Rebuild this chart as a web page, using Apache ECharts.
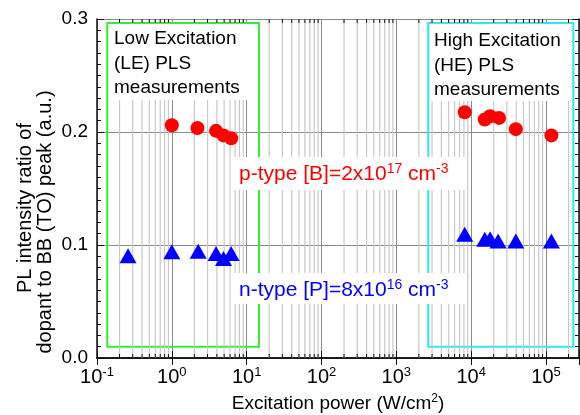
<!DOCTYPE html>
<html>
<head>
<meta charset="utf-8">
<script src="https://cdn.jsdelivr.net/npm/echarts@6/dist/echarts.min.js"></script>
<style>
  html, body { margin: 0; padding: 0; background: #fff; }
  #chart { width: 580px; height: 415px; }
</style>
</head>
<body>
<div id="chart"></div>
<script>
// p-type (boron) – red circles
const pTypeX = [1.0, 2.2, 3.9, 4.9, 6.2, 8200, 15200, 17900, 23600, 39500, 118000];
const pTypeY = [0.206, 0.2035, 0.201, 0.197, 0.1945, 0.2175, 0.211, 0.214, 0.2125, 0.2025, 0.197];
// n-type (phosphorus) – blue triangles
const nTypeX = [0.26, 1.0, 2.25, 3.9, 4.9, 6.2, 8200, 15200, 17900, 22900, 39500, 118000];
const nTypeY = [0.0905, 0.094, 0.0945, 0.0925, 0.088, 0.0925, 0.1095, 0.105, 0.1055, 0.1035, 0.1035, 0.1035];
const yTickLabels = ['0.0', '0.1', '0.2', '0.3'];
// LE / HE regions [x0, y0] -> [x1, y1]
const lowBox = [[0.137, 0.01], [14.6, 0.2965]];
const highBox = [[2670, 0.01], [2.32e5, 0.2965]];

const X_MIN = 0.1;
const X_MAX = 2.76e5;
const FONT = '"Liberation Sans", Arial, sans-serif';

// minor log ticks 2..9 x 10^k
const minorX = [];
for (let k = -1; k <= 5; k++) {
  for (let m = 2; m <= 9; m++) {
    const v = m * Math.pow(10, k);
    if (v < X_MAX) minorX.push([v, 0]);
  }
}

function toPairs(xs, ys) {
  return xs.map((x, i) => [x, ys[i]]);
}

function expLabel(value) {
  const e = Math.log10(value);
  if (Math.abs(e - Math.round(e)) > 1e-6) return '';
  return `{b|10}{e|${Math.round(e)}}`;
}

const chart = echarts.init(document.getElementById('chart'));

const option = {
  animation: false,
  textStyle: { fontFamily: FONT },
  grid: {
    left: 97, right: 1, top: 19, bottom: 57,
    containLabel: false,
    outerBoundsMode: 'none',
  },
  xAxis: [{
    type: 'log',
    logBase: 10,
    min: X_MIN,
    max: X_MAX,
    position: 'bottom',
    name: '{n|Excitation power (W/cm}{s|2}{n|)}',
    nameLocation: 'middle',
    nameGap: 35,
    nameTextStyle: {
      rich: {
        n: { fontSize: 19, fontFamily: FONT, color: '#000' },
        s: { fontSize: 12, fontFamily: FONT, color: '#000', padding: [0, 0, 9, 0] },
      },
    },
    axisLine: { lineStyle: { color: '#111', width: 1.5 } },
    axisTick: { inside: true, length: 7, lineStyle: { color: '#111' } },
    axisLabel: {
      margin: 8,
      formatter: expLabel,
      rich: {
        b: { fontSize: 20, fontFamily: FONT, color: '#000' },
        e: { fontSize: 13, fontFamily: FONT, color: '#000', padding: [0, 0, 10, 0] },
      },
    },
    splitLine: { show: true, lineStyle: { color: '#8a8a8a', width: 1 } },
  }, {
    type: 'log',
    logBase: 10,
    min: X_MIN,
    max: X_MAX,
    position: 'top',
    axisLine: { lineStyle: { color: '#111', width: 1.5 } },
    axisTick: { inside: true, length: 7, lineStyle: { color: '#111' } },
    axisLabel: { show: false },
    splitLine: { show: false },
  }],
  yAxis: [{
    type: 'value',
    min: 0,
    max: 0.3,
    interval: 0.1,
    axisLine: { show: true, lineStyle: { color: '#111', width: 1.5 } },
    axisTick: { show: true, inside: true, length: 7, lineStyle: { color: '#111' } },
    minorTick: { show: true, splitNumber: 10, length: 4, lineStyle: { color: '#111' } },
    axisLabel: {
      margin: 9,
      fontSize: 19,
      color: '#000',
      formatter: (v, i) => yTickLabels[i],
    },
    splitLine: { show: true, lineStyle: { color: '#8a8a8a', width: 1 } },
  }, {
    type: 'value',
    min: 0,
    max: 0.3,
    interval: 0.1,
    position: 'right',
    axisLine: { show: true, lineStyle: { color: '#111', width: 1.5 } },
    axisTick: { show: true, inside: true, length: 7, lineStyle: { color: '#111' } },
    minorTick: { show: true, splitNumber: 10, length: 4, lineStyle: { color: '#111' } },
    axisLabel: { show: false },
    splitLine: { show: false },
  }],
  graphic: [
    // y axis title, two lines
    {
      type: 'text', x: 25, y: 208, rotation: Math.PI / 2, z: 10,
      style: {
        text: 'PL intensity ratio of', fontSize: 20, fontFamily: FONT, fill: '#000',
        align: 'center', verticalAlign: 'middle', textAlign: 'center', textVerticalAlign: 'middle',
      },
    },
    {
      type: 'text', x: 45, y: 222, rotation: Math.PI / 2, z: 10,
      style: {
        text: 'dopant to BB (TO) peak (a.u.)', fontSize: 20, fontFamily: FONT, fill: '#000',
        align: 'center', verticalAlign: 'middle', textAlign: 'center', textVerticalAlign: 'middle',
      },
    },
    // region captions on white
    { type: 'rect', z: 10, shape: { x: 109, y: 24, width: 149, height: 76 }, style: { fill: '#fff' } },
    {
      type: 'text', x: 114, y: 27, z: 11,
      style: {
        text: 'Low Excitation\n(LE) PLS\nmeasurements', fontSize: 19, fontFamily: FONT, fill: '#000',
        lineHeight: 24.5, verticalAlign: 'top', textVerticalAlign: 'top',
      },
    },
    { type: 'rect', z: 10, shape: { x: 430, y: 24, width: 142, height: 77 }, style: { fill: '#fff' } },
    {
      type: 'text', x: 434, y: 29, z: 11,
      style: {
        text: 'High Excitation\n(HE) PLS\nmeasurements', fontSize: 19, fontFamily: FONT, fill: '#000',
        lineHeight: 24.5, verticalAlign: 'top', textVerticalAlign: 'top',
      },
    },
    // doping labels
    { type: 'rect', z: 10, shape: { x: 231, y: 157, width: 234, height: 33 }, style: { fill: '#fff' } },
    {
      type: 'text', x: 239, y: 174, z: 11,
      style: {
        text: '{m|p-type [B]=2x10}{s|17}{m| cm}{s|-3}',
        verticalAlign: 'middle', textVerticalAlign: 'middle',
        rich: {
          m: { fontSize: 21, fontFamily: FONT, fill: '#ff0000' },
          s: { fontSize: 14, fontFamily: FONT, fill: '#ff0000', padding: [0, 0, 10, 0] },
        },
      },
    },
    { type: 'rect', z: 10, shape: { x: 231, y: 273, width: 234, height: 31 }, style: { fill: '#fff' } },
    {
      type: 'text', x: 239, y: 290, z: 11,
      style: {
        text: '{m|n-type [P]=8x10}{s|16}{m| cm}{s|-3}',
        verticalAlign: 'middle', textVerticalAlign: 'middle',
        rich: {
          m: { fontSize: 21, fontFamily: FONT, fill: '#0000ff' },
          s: { fontSize: 14, fontFamily: FONT, fill: '#0000ff', padding: [0, 0, 10, 0] },
        },
      },
    },
  ],
  series: [
    {
      // minor log grid lines + minor ticks on bottom and top axes
      type: 'custom',
      silent: true,
      z: 1,
      xAxisIndex: 0,
      yAxisIndex: 0,
      data: minorX,
      renderItem(params, api) {
        const v = api.value(0);
        const b = api.coord([v, 0]);
        const t = api.coord([v, 0.3]);
        return {
          type: 'group',
          children: [
            { type: 'line', shape: { x1: b[0], y1: b[1], x2: t[0], y2: t[1] }, style: { stroke: '#c8c8c8', lineWidth: 1.2 } },
            { type: 'line', shape: { x1: b[0], y1: b[1], x2: b[0], y2: b[1] - 4 }, style: { stroke: '#111', lineWidth: 1 } },
            { type: 'line', shape: { x1: t[0], y1: t[1], x2: t[0], y2: t[1] + 4 }, style: { stroke: '#111', lineWidth: 1 } },
          ],
        };
      },
      markArea: {
        silent: true,
        label: { show: false },
        data: [
          [{ coord: lowBox[0], itemStyle: { color: 'rgba(0,0,0,0)', borderColor: '#33ee33', borderWidth: 2 } }, { coord: lowBox[1] }],
          [{ coord: highBox[0], itemStyle: { color: 'rgba(0,0,0,0)', borderColor: '#2ee8ee', borderWidth: 2 } }, { coord: highBox[1] }],
        ],
      },
    },
    {
      name: 'p-type',
      type: 'scatter',
      z: 20,
      symbol: 'circle',
      symbolSize: 14,
      itemStyle: { color: '#ff0000', opacity: 1 },
      data: toPairs(pTypeX, pTypeY),
    },
    {
      name: 'n-type',
      type: 'scatter',
      z: 20,
      symbol: 'triangle',
      symbolSize: [17, 15],
      itemStyle: { color: '#0000ff', opacity: 1 },
      data: toPairs(nTypeX, nTypeY),
    },
  ],
};

chart.setOption(option);
</script>
</body>
</html>
